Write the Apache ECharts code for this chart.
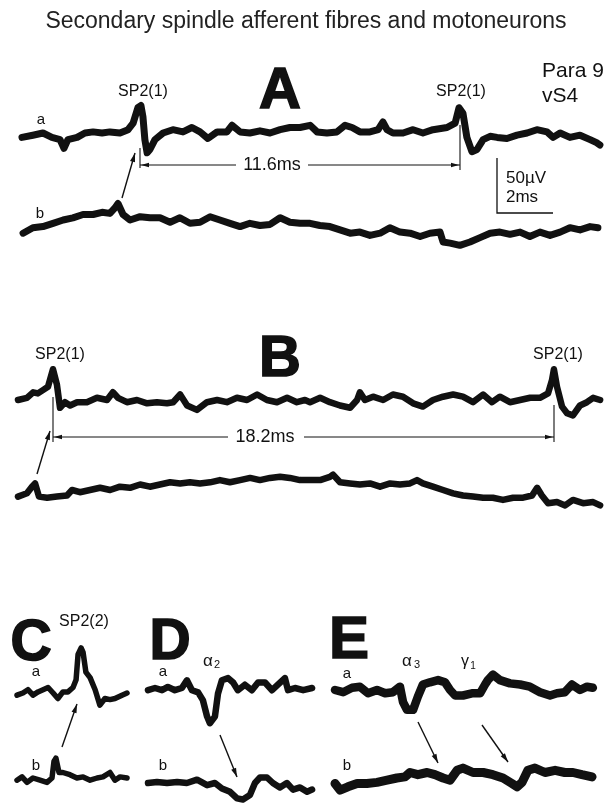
<!DOCTYPE html>
<html><head><meta charset="utf-8">
<script src="https://cdn.jsdelivr.net/npm/echarts@6/dist/echarts.min.js"></script>
<style>html,body{margin:0;padding:0;background:#fff}#c{width:613px;height:807px}</style>
</head><body><div id="c"></div>
<script>
// ---- Data: [time (ms), potential (µV)] ----
const traceAa = [[0.07,-4],[0.46,-2],[0.82,0],[1.14,-4],[1.43,-6],[1.57,-14],[1.71,-6],[2.04,-4],[2.32,0],[2.61,1],[2.93,0],[3.21,1],[3.57,0],[3.86,3],[4.04,9],[4.21,23],[4.32,25],[4.39,15],[4.46,-6],[4.54,-18],[4.64,-15],[4.82,-6],[5.11,0],[5.46,3],[5.82,1],[6.14,5],[6.43,1],[6.71,-5],[7.04,1],[7.39,1],[7.57,7],[7.86,1],[8.21,0],[8.57,2],[8.93,0],[9.29,3],[9.64,5],[10.0,5],[10.36,7],[10.61,1],[10.96,0],[11.32,1],[11.61,7],[11.86,5],[12.14,1],[12.5,1],[12.79,3],[12.96,10],[13.11,3],[13.32,0],[13.68,0],[14.04,3],[14.39,0],[14.75,3],[15.25,5],[15.54,9],[15.68,23],[15.82,18],[15.96,-4],[16.14,-17],[16.32,-15],[16.54,-6],[16.79,-3],[17.04,-4],[17.39,-5],[17.75,-2],[18.11,0],[18.46,3],[18.82,1],[19.04,-4],[19.29,0],[19.64,-4],[20.0,-2],[20.36,-6],[20.61,-9],[20.71,-11]];
const traceAb = [[0.11,-12],[0.46,-7],[0.82,-6],[1.18,-3],[1.54,0],[1.89,2],[2.25,5],[2.61,5],[2.93,7],[3.21,6],[3.39,11],[3.5,15],[3.68,5],[3.93,0],[4.29,3],[4.64,2],[5.0,2],[5.36,-2],[5.71,2],[6.07,-3],[6.43,-2],[6.79,3],[7.14,0],[7.5,-3],[7.86,-6],[8.21,-3],[8.57,-5],[8.93,-4],[9.29,2],[9.64,-2],[10.0,-3],[10.36,-3],[10.71,-5],[11.07,-6],[11.43,-9],[11.79,-12],[12.14,-11],[12.5,-14],[12.86,-12],[13.21,-7],[13.57,-11],[13.93,-12],[14.29,-15],[14.64,-12],[15.0,-11],[15.11,-20],[15.36,-21],[15.71,-23],[16.07,-20],[16.43,-16],[16.79,-12],[17.14,-11],[17.5,-13],[17.86,-11],[18.21,-15],[18.57,-11],[18.93,-14],[19.29,-11],[19.64,-7],[20.0,-9],[20.36,-6],[20.64,-7]];
const traceBa = [[0,0],[0.32,2],[0.54,7],[0.71,6],[0.89,9],[1.07,12],[1.25,28],[1.39,14],[1.5,-7],[1.68,-2],[1.86,-5],[2.11,-2],[2.46,-2],[2.82,2],[3.18,0],[3.39,7],[3.57,2],[3.89,-2],[4.25,0],[4.61,-3],[4.96,-2],[5.32,-3],[5.54,-2],[5.79,5],[6.04,-5],[6.39,-9],[6.75,-2],[7.11,0],[7.46,-2],[7.82,2],[8.18,0],[8.54,5],[8.89,0],[9.25,-2],[9.61,2],[9.96,-2],[10.25,0],[10.43,-2],[10.79,2],[11.14,-2],[11.5,-5],[11.86,-7],[12.11,0],[12.21,7],[12.39,0],[12.68,3],[13.04,0],[13.39,5],[13.75,3],[14.11,-3],[14.46,-6],[14.82,0],[15.18,3],[15.54,5],[15.89,3],[16.25,-2],[16.61,5],[16.93,-2],[17.21,3],[17.57,-2],[17.93,0],[18.29,2],[18.64,2],[18.93,6],[19.07,18],[19.14,28],[19.25,12],[19.43,-6],[19.61,-12],[19.82,-14],[20.07,-5],[20.32,-2],[20.54,2],[20.79,0]];
const traceBb = [[0,-6],[0.32,-3],[0.5,3],[0.61,6],[0.75,-6],[1.04,-7],[1.39,-6],[1.75,-5],[1.93,0],[2.21,-2],[2.57,0],[2.93,2],[3.29,0],[3.64,3],[4.0,2],[4.36,5],[4.71,3],[5.07,5],[5.43,7],[5.79,6],[6.14,7],[6.5,6],[6.86,7],[7.21,9],[7.57,7],[7.93,9],[8.29,11],[8.64,9],[9.0,11],[9.36,12],[9.71,11],[10.07,9],[10.43,9],[10.79,9],[11.14,12],[11.25,14],[11.5,7],[11.86,6],[12.21,5],[12.57,6],[12.93,3],[13.29,6],[13.64,5],[14.0,6],[14.25,9],[14.46,6],[14.82,3],[15.18,0],[15.54,-3],[15.89,-5],[16.25,-6],[16.61,-7],[16.96,-7],[17.32,-9],[17.68,-7],[18.04,-7],[18.36,-5],[18.54,2],[18.71,-5],[18.93,-12],[19.25,-11],[19.54,-14],[19.82,-9],[20.18,-12],[20.54,-11],[20.79,-14]];
const traceCa = [[0,-2],[0.21,0],[0.39,3],[0.57,-2],[0.75,1],[0.93,3],[1.11,5],[1.29,0],[1.46,-5],[1.64,1],[1.82,1],[2.0,5],[2.11,12],[2.18,35],[2.29,41],[2.36,37],[2.46,19],[2.61,14],[2.79,3],[2.96,-11],[3.14,-5],[3.32,-6],[3.5,-5],[3.75,-2],[3.93,0]];
const traceCb = [[0,-2],[0.18,1],[0.36,-4],[0.57,0],[0.82,-2],[1.07,-4],[1.25,0],[1.32,15],[1.39,18],[1.5,5],[1.64,5],[1.89,3],[2.14,0],[2.36,1],[2.61,-2],[2.86,0],[3.07,1],[3.32,5],[3.5,-2],[3.68,1],[3.93,0]];
const traceDa = [[0,-2],[0.25,0],[0.5,-2],[0.71,1],[0.96,-2],[1.21,0],[1.39,7],[1.57,-2],[1.79,-4],[1.96,-11],[2.11,-26],[2.21,-32],[2.39,-26],[2.5,-5],[2.64,7],[2.86,9],[3.04,5],[3.21,-2],[3.46,3],[3.71,-2],[3.93,5],[4.18,5],[4.43,-2],[4.64,3],[4.89,9],[5.0,-2],[5.25,0],[5.54,-2],[5.86,0]];
const traceDb = [[0,0],[0.32,1],[0.68,0],[1.04,1],[1.39,0],[1.75,3],[2.11,-2],[2.39,0],[2.64,-5],[2.93,-8],[3.18,-14],[3.39,-15],[3.64,-11],[3.82,0],[4.0,5],[4.25,5],[4.46,0],[4.71,-4],[4.96,0],[5.18,-6],[5.43,-4],[5.68,-8],[5.86,-6]];
const traceEa = [[0,0],[0.29,-2],[0.61,2],[0.89,3],[1.18,-3],[1.5,0],[1.79,-3],[2.07,-2],[2.32,3],[2.43,-11],[2.57,-18],[2.79,-18],[2.96,-6],[3.14,5],[3.39,7],[3.68,9],[3.93,7],[4.11,0],[4.29,-5],[4.57,-5],[4.89,-3],[5.18,-3],[5.36,5],[5.46,9],[5.64,14],[5.89,9],[6.25,6],[6.61,5],[6.96,3],[7.32,-2],[7.68,-5],[7.93,-3],[8.21,-2],[8.46,5],[8.75,0],[9.0,3],[9.21,2]];
const traceEb = [[0,-5],[0.18,-11],[0.46,-8],[0.79,-5],[1.14,-5],[1.5,-4],[1.86,-2],[2.21,0],[2.5,1],[2.68,5],[2.96,3],[3.29,5],[3.57,3],[3.86,0],[4.11,-2],[4.36,7],[4.57,9],[4.93,5],[5.29,5],[5.64,3],[6.0,0],[6.32,-5],[6.5,-8],[6.68,-4],[6.89,7],[7.14,9],[7.5,5],[7.86,7],[8.21,5],[8.5,5],[8.82,3],[9.18,1]];

// ---- Layout ----
const PX_MS = 28, PX_UV = 1.1;
const FONT = '"Liberation Sans", Arial, Helvetica, sans-serif';
const INK = '#111';
const panels = [
  {data: traceAa, x0: 20,  yb: 133, t: [0, 21],  v: [-30, 30], w: 7},
  {data: traceAb, x0: 20,  yb: 220, t: [0, 21],  v: [-30, 30], w: 7},
  {data: traceBa, x0: 18,  yb: 400, t: [0, 21],  v: [-30, 30], w: 6.5},
  {data: traceBb, x0: 18,  yb: 490, t: [0, 21],  v: [-30, 30], w: 6.5},
  {data: traceCa, x0: 17,  yb: 693, t: [0, 4],   v: [-20, 45], w: 5.5},
  {data: traceCb, x0: 17,  yb: 778, t: [0, 4],   v: [-20, 30], w: 5.5},
  {data: traceDa, x0: 148, yb: 688, t: [0, 6],   v: [-35, 20], w: 6.5},
  {data: traceDb, x0: 148, yb: 783, t: [0, 6],   v: [-20, 20], w: 6.5},
  {data: traceEa, x0: 335, yb: 690, t: [0, 9.5], v: [-25, 20], w: 8.5},
  {data: traceEb, x0: 335, yb: 778, t: [0, 9.5], v: [-20, 20], w: 9}
];

function txt(x, y, s, size, opt) {
  opt = opt || {};
  const st = {
    text: s, fill: opt.fill || INK,
    font: (opt.weight || 'normal') + ' ' + size + 'px ' + FONT,
    align: opt.align || 'center', verticalAlign: 'middle',
    textAlign: opt.align || 'center', textVerticalAlign: 'middle'};
  if (opt.stroke) { st.stroke = opt.fill || INK; st.lineWidth = opt.stroke; }
  return {type: 'text', x: x, y: y, silent: true, style: st};
}
function seg(x1, y1, x2, y2, lw) {
  return {type: 'line', silent: true, shape: {x1: x1, y1: y1, x2: x2, y2: y2},
    style: {stroke: INK, lineWidth: lw || 1.1}};
}
function head(xt, yt, xf, yf, len, hw) {
  len = len || 8; hw = hw || 3;
  const dx = xt - xf, dy = yt - yf, d = Math.hypot(dx, dy), ux = dx / d, uy = dy / d;
  const bx = xt - ux * len, by = yt - uy * len;
  return {type: 'polygon', silent: true, shape: {points: [[xt, yt], [bx - uy * hw, by + ux * hw], [bx + uy * hw, by - ux * hw]]},
    style: {fill: INK}};
}
function arrow(x1, y1, x2, y2) { return [seg(x1, y1, x2, y2, 1.4), head(x2, y2, x1, y1, 9, 2.6)]; }

const BIG = {weight: 'bold', stroke: 1.6};
const graphics = [].concat(
  [txt(306, 22, 'Secondary spindle afferent fibres and motoneurons', 23, {fill: '#222'})],
  [txt(542, 71, 'Para 9', 21, {align: 'left'}), txt(542, 96, 'vS4', 21, {align: 'left'})],
  // big panel letters
  [txt(280, 92, 'A', 58, BIG), txt(280, 360, 'B', 58, BIG),
   txt(31, 644, 'C', 57, BIG), txt(170, 643, 'D', 57, BIG),
   txt(349, 641, 'E', 60, BIG)],
  // unit labels
  [txt(143, 92, 'SP2(1)', 16), txt(461, 92, 'SP2(1)', 16),
   txt(60, 355, 'SP2(1)', 16), txt(558, 355, 'SP2(1)', 16),
   txt(84, 622, 'SP2(2)', 16)],
  // trace labels a / b
  [txt(41, 120, 'a', 15), txt(40, 214, 'b', 15),
   txt(36, 672, 'a', 15), txt(36, 766, 'b', 15),
   txt(163, 672, 'a', 15), txt(163, 766, 'b', 15),
   txt(347, 674, 'a', 15), txt(347, 766, 'b', 15)],
  // alpha / gamma labels
  [txt(208, 661, 'α', 17), txt(217, 665, '2', 11),
   txt(407, 661, 'α', 17), txt(417, 665, '3', 11),
   txt(465, 662, 'γ', 16), txt(473, 666, '1', 10)],
  // interval A
  [seg(140, 148, 140, 168), seg(460, 125, 460, 170),
   seg(140, 165, 236, 165, 1), seg(308, 165, 460, 165, 1),
   head(141, 165, 160, 165, 8, 2.2), head(459, 165, 440, 165, 8, 2.2),
   txt(272, 165, '11.6ms', 18)],
  // interval B
  [seg(53, 397, 53, 442), seg(554, 405, 554, 442),
   seg(53, 437, 228, 437, 1), seg(304, 437, 554, 437, 1),
   head(54, 437, 74, 437, 8, 2.2), head(553, 437, 533, 437, 8, 2.2),
   txt(265, 437, '18.2ms', 18)],
  // arrows
  arrow(122, 198, 135, 153), arrow(37, 474, 50, 431), arrow(62, 747, 77, 704),
  arrow(220, 735, 237, 777), arrow(418, 722, 438, 763), arrow(482, 725, 508, 762),
  // scale bar: 50 µV and 2 ms
  [{type: 'polyline', silent: true,
    shape: {points: [[497, 213 - 50 * PX_UV], [497, 213], [497 + 2 * PX_MS, 213]]},
    style: {stroke: INK, lineWidth: 1.3, fill: null}},
   txt(506, 178, '50µV', 17, {align: 'left'}), txt(506, 197, '2ms', 17, {align: 'left'})]
);

const option = {
  animation: false,
  backgroundColor: '#fff',
  grid: panels.map(p => ({left: p.x0, top: p.yb - p.v[1] * PX_UV,
    width: (p.t[1] - p.t[0]) * PX_MS, height: (p.v[1] - p.v[0]) * PX_UV, containLabel: false})),
  xAxis: panels.map((p, i) => ({type: 'value', gridIndex: i, min: p.t[0], max: p.t[1], show: false})),
  yAxis: panels.map((p, i) => ({type: 'value', gridIndex: i, min: p.v[0], max: p.v[1], show: false})),
  series: panels.map((p, i) => ({type: 'line', xAxisIndex: i, yAxisIndex: i, data: p.data,
    symbol: 'none', clip: false, silent: true, smooth: false,
    lineStyle: {color: INK, width: p.w, join: 'round', cap: 'round'}})),
  graphic: graphics
};
const chart = echarts.init(document.getElementById('c'), null, {renderer: 'canvas'});
chart.setOption(option);
</script></body></html>
